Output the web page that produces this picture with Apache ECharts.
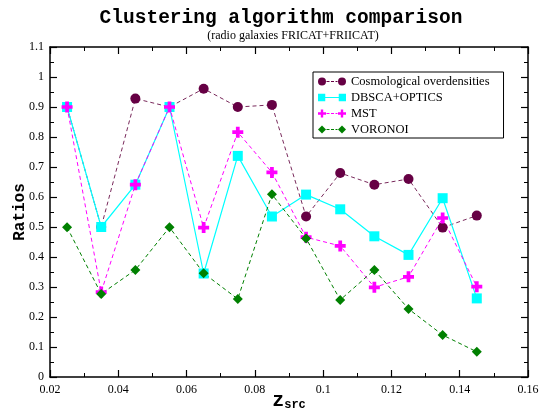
<!DOCTYPE html>
<html>
<head>
<meta charset="utf-8">
<script src="https://cdn.jsdelivr.net/npm/echarts@6/dist/echarts.min.js"></script>
<style>html,body{margin:0;padding:0;background:#fff}#c{width:542px;height:415px}</style>
</head>
<body>
<div id="c"></div>
<script>
var zsrc = [0.025, 0.035, 0.045, 0.055, 0.065, 0.075, 0.085, 0.095, 0.105, 0.115, 0.125, 0.135, 0.145];
var cosmo = [0.9, 0.5, 0.928, 0.9, 0.961, 0.9, 0.907, 0.535, 0.68, 0.641, 0.66, 0.498, 0.538];
var dbscan = [0.9, 0.5, 0.641, 0.9, 0.345, 0.737, 0.535, 0.608, 0.559, 0.469, 0.407, 0.596, 0.262];
var mst = [0.9, 0.283, 0.641, 0.9, 0.498, 0.816, 0.682, 0.466, 0.437, 0.299, 0.334, 0.53, 0.301];
var voronoi = [0.499, 0.277, 0.357, 0.499, 0.346, 0.26, 0.609, 0.462, 0.257, 0.357, 0.227, 0.14, 0.084];
var seriesNames = ['Cosmological overdensities', 'DBSCA+OPTICS', 'MST', 'VORONOI'];

function pairs(v) { return zsrc.map(function (x, i) { return [x, v[i]]; }); }

var plus = 'path://M3.3,0H6.7V3.3H10V6.7H6.7V10H3.3V6.7H0V3.3H3.3Z';
var diamond = 'path://M5,0L10,5L5,10L0,5Z';
var dashes = 'M8.5,3.5H11.5V4.5H8.5ZM13,3.5H16V4.5H13ZM17.5,3.5H19.5V4.5H17.5Z';
var icons = [
  'path://M0,4A4,4 0 1,0 8,4A4,4 0 1,0 0,4Z' + dashes + 'M20,4A4,4 0 1,0 28,4A4,4 0 1,0 20,4Z',
  'path://M0.5,0.5H7.5V7.5H0.5ZM7.5,3.5H20.5V4.5H7.5ZM20.5,0.5H27.5V7.5H20.5Z',
  'path://M2.8,0H5.2V2.8H8V5.2H5.2V8H2.8V5.2H0V2.8H2.8Z' + dashes + 'M22.8,0H25.2V2.8H28V5.2H25.2V8H22.8V5.2H20V2.8H22.8Z',
  'path://M4,0L8,4L4,8L0,4Z' + dashes + 'M24,0L28,4L24,8L20,4Z'
];

var serif = 'Liberation Serif';
var mono = 'Liberation Mono';

var tickCommon = {
  axisLine: { show: true, onZero: false, lineStyle: { color: '#000', width: 1.5 } },
  axisTick: { show: true, inside: true, length: 7, lineStyle: { color: '#000', width: 1.2 } },
  minorTick: { show: true, splitNumber: 2, length: 4, lineStyle: { color: '#000', width: 1 } },
  splitLine: { show: false },
  minorSplitLine: { show: false }
};

function xAx(pos, labels) {
  return Object.assign({
    type: 'value', position: pos, min: 0.02, max: 0.16, interval: 0.02,
    axisLabel: { show: labels, color: '#000', fontFamily: serif, fontSize: 12, margin: 7 }
  }, tickCommon, labels ? {
    name: '{a|z}{b|src}', nameLocation: 'middle', nameGap: 8, nameMoveOverlap: false,
    nameTextStyle: { rich: {
      a: { fontFamily: mono, fontWeight: 'bold', fontSize: 20, color: '#000', verticalAlign: 'bottom' },
      b: { fontFamily: mono, fontWeight: 'bold', fontSize: 12, color: '#000', padding: [14, 0, 0, 0], verticalAlign: 'bottom' }
    } }
  } : {});
}
function yAx(pos, labels) {
  return Object.assign({
    type: 'value', position: pos, min: 0, max: 1.1, interval: 0.1,
    axisLabel: { show: labels, color: '#000', fontFamily: serif, fontSize: 12, margin: 6 }
  }, tickCommon, labels ? {
    name: 'Ratios', nameLocation: 'middle', nameGap: 22, nameMoveOverlap: false,
    nameTextStyle: { fontFamily: mono, fontWeight: 'bold', fontSize: 16, color: '#000' }
  } : {});
}

var chart = echarts.init(document.getElementById('c'), null, { renderer: 'canvas' });
chart.setOption({
  animation: false,
  backgroundColor: '#fff',
  title: [
    { text: 'Clustering algorithm comparison', left: 276, top: 3, textAlign: 'center',
      textStyle: { fontFamily: mono, fontWeight: 'bold', fontSize: 19.5, color: '#000' } },
    { text: '(radio galaxies FRICAT+FRIICAT)', left: 288, top: 25, textAlign: 'center',
      textStyle: { fontFamily: serif, fontWeight: 'normal', fontSize: 12, color: '#000' } }
  ],
  grid: { left: 50, right: 14, top: 47, bottom: 38, containLabel: false, outerBoundsMode: 'none' },
  xAxis: [xAx('bottom', true), xAx('top', false)],
  yAxis: [yAx('left', true), yAx('right', false)],
  legend: {
    orient: 'vertical', left: 313, top: 72, width: 190,
    padding: [3, 14, 2, 5], itemGap: 3, itemWidth: 28, itemHeight: 8,
    borderColor: '#000', borderWidth: 1, backgroundColor: '#fff',
    textStyle: { fontFamily: serif, fontSize: 12.5, color: '#000', lineHeight: 13 },
    data: seriesNames.map(function (n, i) { return { name: n, icon: icons[i] }; })
  },
  series: [
    { name: seriesNames[0], type: 'line', data: pairs(cosmo), symbol: 'circle', symbolSize: 10,
      itemStyle: { color: '#660044' }, lineStyle: { color: '#7a2a5c', width: 1, type: [4, 3] } },
    { name: seriesNames[1], type: 'line', data: pairs(dbscan), symbol: 'rect', symbolSize: 10,
      itemStyle: { color: '#00ffff' }, lineStyle: { color: '#00ffff', width: 1.2, type: 'solid' } },
    { name: seriesNames[2], type: 'line', data: pairs(mst), symbol: plus, symbolSize: 11,
      itemStyle: { color: '#ff00ff' }, lineStyle: { color: '#ff00ff', width: 1, type: [4, 3] } },
    { name: seriesNames[3], type: 'line', data: pairs(voronoi), symbol: diamond, symbolSize: 10,
      itemStyle: { color: '#008000' }, lineStyle: { color: '#008000', width: 1, type: [4, 3] } }
  ]
});
</script>
</body>
</html>
